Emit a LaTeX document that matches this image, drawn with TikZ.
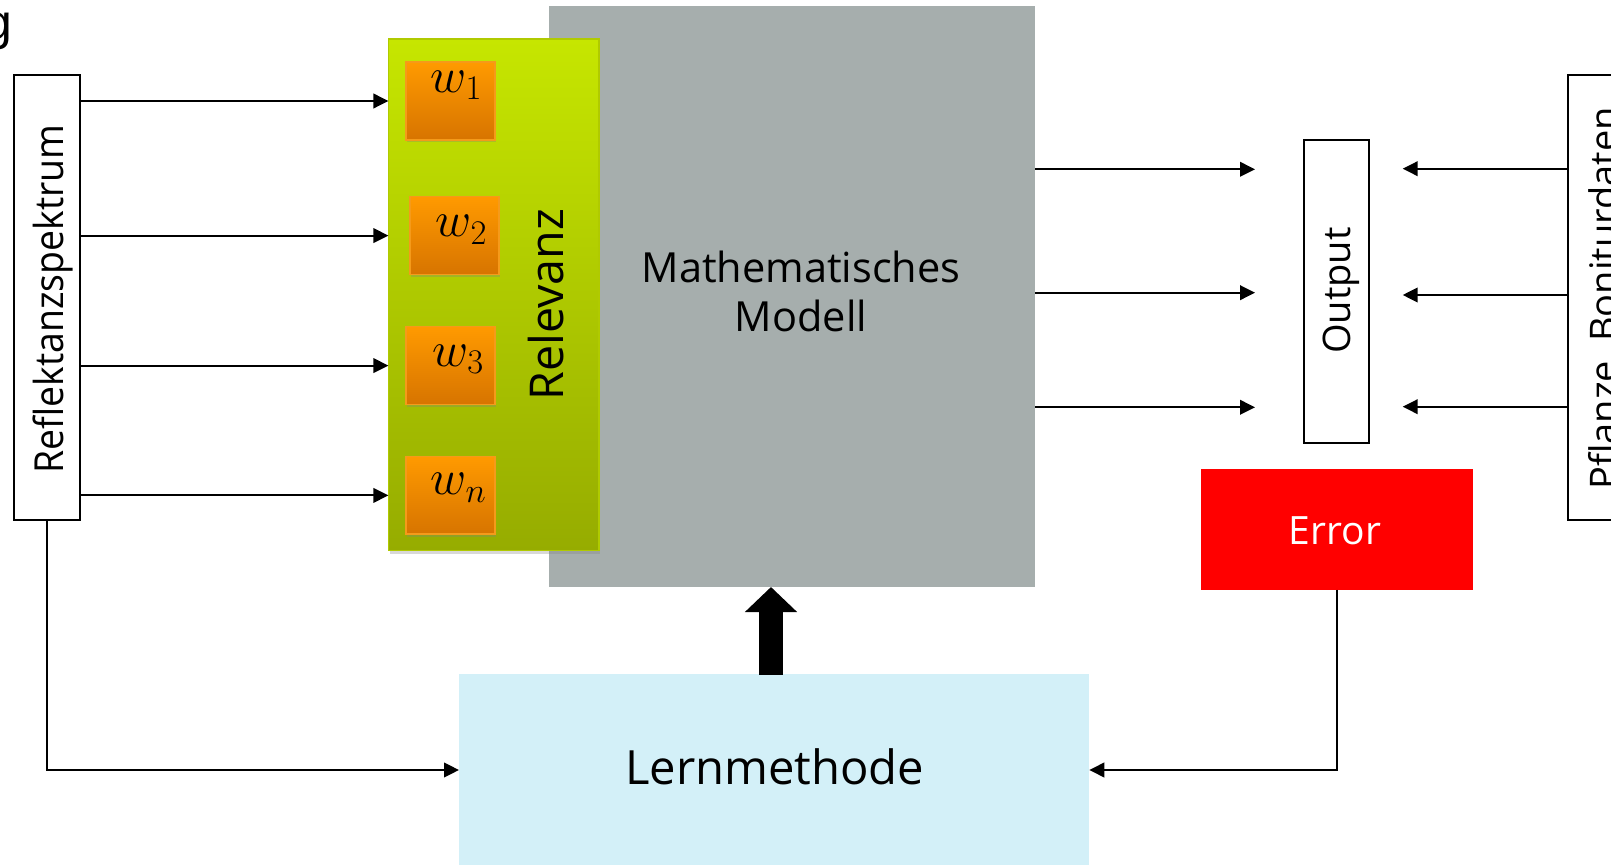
\documentclass[tikz,border=0pt]{standalone}
\usepackage[no-math]{fontspec}
\usepackage{graphicx}
\setmainfont{Open Sans}
\newfontfamily\arialfont{Liberation Sans}
\usetikzlibrary{arrows.meta,shadows,calc}

\definecolor{modelgray}{HTML}{A6AEAD}
\definecolor{relgreenT}{HTML}{C6E600}
\definecolor{relgreenB}{HTML}{96AC00}
\definecolor{relgreenE}{HTML}{B0CA00}
\definecolor{wtop}{HTML}{FF9A00}
\definecolor{wbot}{HTML}{D77400}
\definecolor{wedge}{HTML}{F59A1A}
\definecolor{errred}{HTML}{FF0000}
\definecolor{lernblue}{HTML}{D3F0F8}

\begin{document}
\begin{tikzpicture}[x=0.5pt,y=-0.5pt,
  every node/.style={inner sep=0pt, outer sep=0pt},
  framebox/.style={rectangle, draw=black, line width=1pt, fill=white},
  weightbox/.style={rectangle, draw=wedge, line width=0.8pt,
    top color=wtop, bottom color=wbot,
    drop shadow={shadow xshift=0.6pt, shadow yshift=-1.2pt, opacity=0.3},
    minimum width=44.4pt, minimum height=38.9pt},
  wlabel/.style={anchor=base west, font=\fontsize{23}{27}\selectfont},
  vlabel/.style={rotate=90, anchor=base},
  arr/.style={line width=1pt, -{Triangle[length=7.5pt,width=7.3pt]}},
  fatarrow/.style={line width=12.35pt, -{Triangle[length=12.5pt,width=25.35pt]}},
]
\path[use as bounding box, fill=white] (0,0) rectangle (1611,865);

% tail of a cropped heading
\node[font=\arialfont\fontsize{25}{30}\selectfont, anchor=base west] (gtail) at (-15.4,40) {g};

% model block and relevance panel
\node[rectangle, fill=modelgray, minimum width=243pt, minimum height=290.5pt] (math) at (792,296.5) {};
\node[align=center, font=\fontsize{20.75}{24.7}\selectfont] (matht) at (801,291.3) {Mathematisches\\Modell};

\node[rectangle, draw=relgreenE, line width=0.8pt, top color=relgreenT, bottom color=relgreenB,
  drop shadow={shadow xshift=0.6pt, shadow yshift=-1.5pt, opacity=0.3},
  minimum width=105.3pt, minimum height=255.75pt] (rel) at (493.7,294.8) {};
\node[vlabel, font=\fontsize{23.3}{28}\selectfont] (relt) at (563.3,304.6) {Relevanz};

% weights
\node[weightbox] (w1) at (450.6,101) {};
\node[weightbox, minimum width=44.6pt, minimum height=39pt] (w2) at (454.5,235.6) {};
\node[weightbox] (w3) at (450.6,365.6) {};
\node[weightbox] (wn) at (450.6,495.4) {};
\node[wlabel] (w1t) at (430.8,92.5) {$w_1$};
\node[wlabel] (w2t) at (435.9,236.9) {$w_2$};
\node[wlabel] (w3t) at (432.5,366.3) {$w_3$};
\node[wlabel] (wnt) at (430.8,494.8) {$w_n$};

% input spectrum
\node[framebox, minimum width=32.85pt, minimum height=222.5pt] (refl) at (47.25,297.5) {};
\node[vlabel, font=\fontsize{20}{24}\selectfont] (reflt) at (63.3,299) {\scalebox{0.935}[1]{Reflektanzspektrum}};

% output and reference data
\node[framebox, minimum width=32.5pt, minimum height=151.7pt] (out) at (1336.5,291.7) {};
\node[vlabel, font=\fontsize{19}{23}\selectfont] (outt) at (1350,290.5) {Output};

\node[framebox, minimum width=32pt, minimum height=222.5pt] (pfl) at (1600.3,297.5) {};
\node[vlabel, font=\fontsize{19}{23}\selectfont] (pflt) at (1617,298.5) {Pflanze, Boniturdaten};

% error and learning method
\node[rectangle, fill=errred, minimum width=135.85pt, minimum height=60.1pt] (err) at (1336.85,529.6) {};
\node[anchor=base, text=white, font=\fontsize{19.5}{23}\selectfont] (errt) at (1335,544.3) {Error};

\node[rectangle, fill=lernblue, minimum width=315.15pt, minimum height=96pt] (lern) at (774.15,770) {};
\node[anchor=base, font=\fontsize{23.6}{28}\selectfont] (lernt) at (774.7,784) {Lernmethode};

% spectrum to weights
\draw[arr] (refl.east |- w1) -- (rel.west |- w1);
\draw[arr] (refl.east |- w2) -- (rel.west |- w2);
\draw[arr] (refl.east |- w3) -- (rel.west |- w3);
\draw[arr] (refl.east |- wn) -- (rel.west |- wn);

% model outputs
\coordinate (o1) at (1255,169.3);
\coordinate (o2) at (1255,292.7);
\coordinate (o3) at (1255,407.3);
\draw[arr] (math.east |- o1) -- (o1);
\draw[arr] (math.east |- o2) -- (o2);
\draw[arr] (math.east |- o3) -- (o3);

% reference data towards the output
\coordinate (t1) at (1402.7,168.7);
\coordinate (t2) at (1402.7,295);
\coordinate (t3) at (1402.7,406.7);
\draw[arr] (pfl.west |- t1) -- (t1);
\draw[arr] (pfl.west |- t2) -- (t2);
\draw[arr] (pfl.west |- t3) -- (t3);

% feedback into the learning method
\draw[arr] (refl.south) |- (lern.west);
\draw[arr] (err.south) |- (lern.east);

% learning method updates the model
\coordinate (fatfoot) at (771,674.5);
\draw[fatarrow] (fatfoot) -- (fatfoot |- math.south);
\end{tikzpicture}
\end{document}
